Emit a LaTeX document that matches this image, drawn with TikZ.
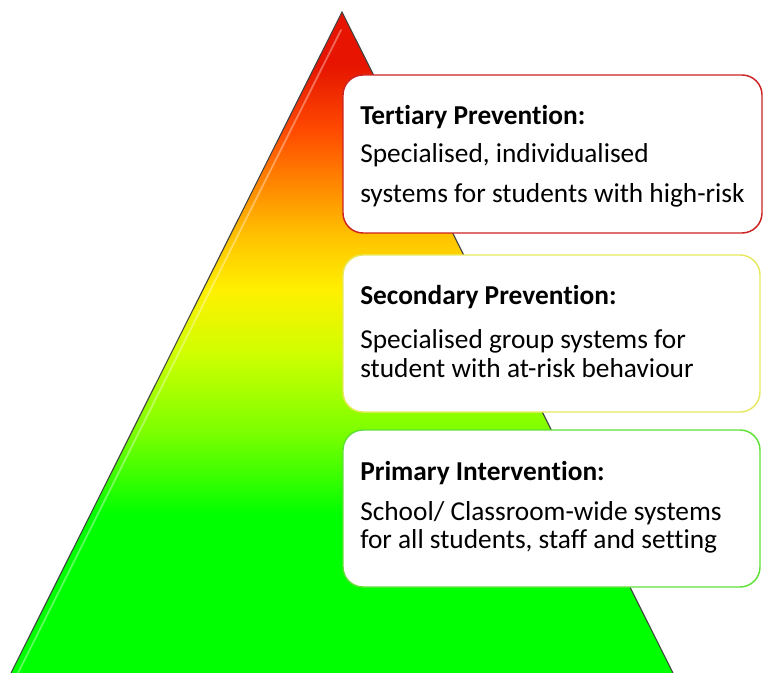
\documentclass[tikz,border=0pt]{standalone}
\usepackage{amsmath}
\usepackage{fontspec}
\setmainfont[Ligatures={NoCommon,NoContextual},Contextuals={NoAlternate}]{Carlito}
\usepackage{tikz}

\definecolor{pyrred}{RGB}{230,20,0}
\definecolor{pyrredorange}{RGB}{255,75,0}
\definecolor{pyrorange}{RGB}{255,135,0}
\definecolor{pyrgold}{RGB}{255,195,0}
\definecolor{pyryellow}{RGB}{255,240,0}
\definecolor{pyrlime}{RGB}{205,255,0}
\definecolor{pyrlgreen}{RGB}{120,255,0}
\definecolor{pyrgreen}{RGB}{0,255,0}
\definecolor{tertline}{RGB}{205,35,35}
\definecolor{secline}{RGB}{232,232,95}
\definecolor{primline}{RGB}{95,225,55}

\pgfdeclareverticalshading{pyramidshade}{100bp}{color(0bp)=(pyrgreen); color(37bp)=(pyrgreen); color(43bp)=(pyrlgreen); color(49bp)=(pyrlime); color(54bp)=(pyryellow); color(58bp)=(pyrgold); color(62bp)=(pyrorange); color(66bp)=(pyrredorange); color(71bp)=(pyrred); color(100bp)=(pyrred)}

\tikzset{
  tierbox/.style={fill=white, line width=1.1pt, rounded corners=15pt},
  tiertext/.style={anchor=base west, inner sep=0.75pt, align=left}
}

\begin{document}
\begin{tikzpicture}[x=0.75pt,y=0.75pt,yscale=-1,xscale=1,font=\fontsize{20.5}{24}\selectfont]
\useasboundingbox (0,0) rectangle (763,673);

%Shape: Triangle [pyramid]
\shade[shading=pyramidshade] (342,12) -- (673,673) -- (11,673) -- cycle ;
%Straight Lines [highlight]
\draw [white, opacity=0.35, line width=1.4pt, line cap=round] (341,30) -- (18,673) ;
%Shape: Triangle outline
\draw [black!75, line width=0.8pt] (11,673) -- (342,12) -- (673,673) ;

%Shape: Rounded Rectangle [tertiary]
\draw [tierbox, draw=tertline] (343,75) rectangle (762,233) ;
%Shape: Rounded Rectangle [secondary]
\draw [tierbox, draw=secline] (343,255) rectangle (760,412) ;
%Shape: Rounded Rectangle [primary]
\draw [tierbox, draw=primline] (343,430) rectangle (760,587) ;

% Text Node
\draw (359,125) node (terthead) [tiertext] {\textbf{Tertiary Preven\kern0pt tion:}};
% Text Node
\draw (359,163) node (tertline1) [tiertext] {Specialised, individualised};
% Text Node
\draw (359,203) node (tertline2) [tiertext] {systems for students with high-risk};

% Text Node
\draw (359,305) node (sechead) [tiertext] {\textbf{Secondary Preven\kern0pt tion:}};
% Text Node
\draw (359,348) node (secline1) [tiertext] {Specialised group systems for};
% Text Node
\draw (359,377) node (secline2) [tiertext] {student with at-risk behaviour};

% Text Node
\draw (359,480) node (primhead) [tiertext] {\textbf{Primary Interven\kern0pt tion:}};
% Text Node
\draw (359,520) node (primline1) [tiertext] {School/ Classroom-wide systems};
% Text Node
\draw (359,548) node (primline2) [tiertext] {for all students, staff and setting};

\end{tikzpicture}
\end{document}
